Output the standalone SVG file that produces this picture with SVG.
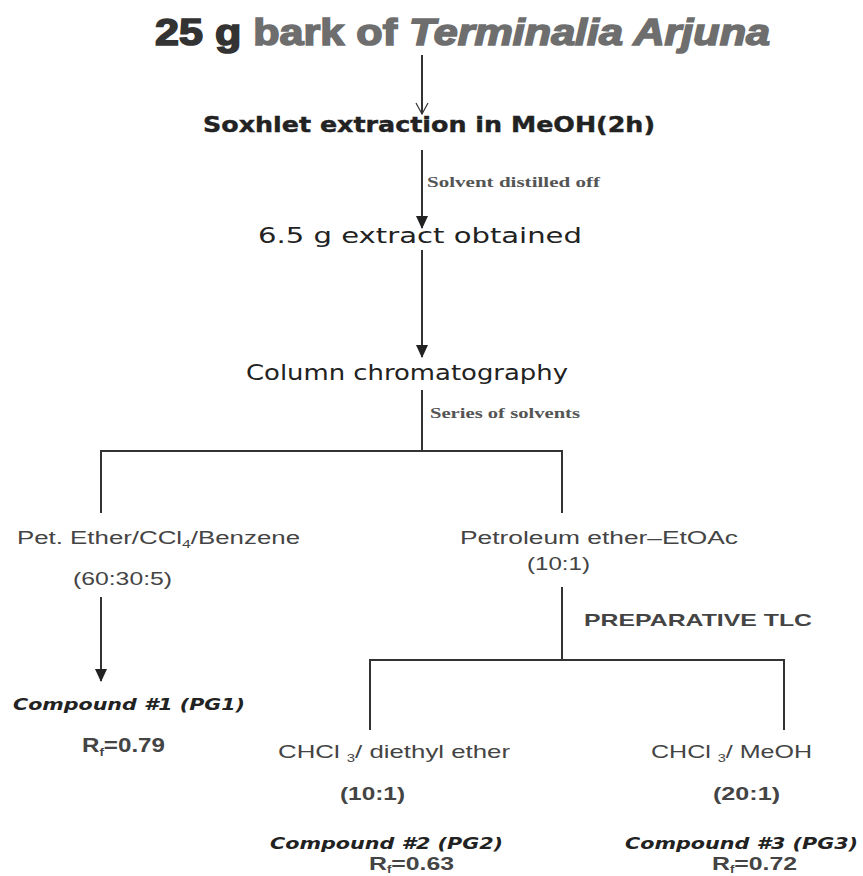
<svg xmlns="http://www.w3.org/2000/svg" width="863" height="876" viewBox="0 0 863 876">
<defs>
<marker id="tri" markerWidth="14" markerHeight="14" refX="12" refY="7" orient="auto" markerUnits="userSpaceOnUse" viewBox="0 0 14 14">
<path d="M0,1 L13,7 L0,13 Z" fill="#222"/>
</marker>
<marker id="open" markerWidth="14" markerHeight="14" refX="12" refY="7" orient="auto" markerUnits="userSpaceOnUse" viewBox="0 0 14 14">
<path d="M1,1 L12,7 L1,13" fill="none" stroke="#333" stroke-width="1.2"/>
</marker>
</defs>
<style>
.ln{stroke:#333;stroke-width:2;fill:none}
.comic{font-family:"DejaVu Sans",sans-serif;fill:#222}
.arial{font-family:"Liberation Sans",Arial,sans-serif;fill:#444}
.times{font-family:"Liberation Serif","Times New Roman",serif;fill:#555;font-weight:bold}
</style>
<rect width="863" height="876" fill="#fff"/>
<g id="connectors">
<line class="ln" x1="422" y1="55" x2="422" y2="114" stroke-width="1.5" marker-end="url(#open)"/>
<line class="ln" x1="422" y1="150" x2="422" y2="228" marker-end="url(#tri)"/>
<line class="ln" x1="422" y1="250" x2="422" y2="357" marker-end="url(#tri)"/>
<polyline class="ln" points="422,390 422,451"/>
<polyline class="ln" points="101,513 101,451 562,451 562,513"/>
<line class="ln" x1="101" y1="597" x2="101" y2="681" marker-end="url(#tri)"/>
<polyline class="ln" points="562,587 562,660"/>
<polyline class="ln" points="370,730 370,660 784,660 784,730"/>
</g>
<g id="title">
<text x="155" y="45" font-family="Liberation Sans,Arial,sans-serif" font-weight="900" font-size="36" stroke-width="1.6" textLength="615" lengthAdjust="spacingAndGlyphs"><tspan fill="#333" stroke="#333">25 g </tspan><tspan fill="#6e6e6e" stroke="#6e6e6e">bark of </tspan><tspan fill="#6e6e6e" stroke="#6e6e6e" font-style="italic">Terminalia Arjuna</tspan></text>
</g>
<g id="soxhlet">
<text class="comic" x="203" y="132" font-size="21" font-weight="bold" stroke="#222" stroke-width="0.4" textLength="452" lengthAdjust="spacingAndGlyphs">Soxhlet extraction in MeOH(2h)</text>
</g>
<g id="label-distilled">
<text class="times" x="427" y="187" font-size="15" textLength="173" lengthAdjust="spacingAndGlyphs">Solvent distilled off</text>
</g>
<g id="extract">
<text class="comic" x="258" y="243" font-size="21" textLength="324" lengthAdjust="spacingAndGlyphs">6.5 g extract obtained</text>
</g>
<g id="column">
<text class="comic" x="246" y="380" font-size="21" textLength="322" lengthAdjust="spacingAndGlyphs">Column chromatography</text>
</g>
<g id="label-series">
<text class="times" x="430" y="418" font-size="15" textLength="150" lengthAdjust="spacingAndGlyphs">Series of solvents</text>
</g>
<g id="pet-ether">
<text class="arial" x="17" y="544" font-size="18" textLength="283" lengthAdjust="spacingAndGlyphs">Pet. Ether/CCl<tspan font-size="11" dy="4">4</tspan><tspan dy="-4">/Benzene</tspan></text>
<text class="arial" x="73" y="585" font-size="19" textLength="99" lengthAdjust="spacingAndGlyphs">(60:30:5)</text>
</g>
<g id="petroleum">
<text class="arial" x="460" y="544" font-size="18" textLength="278" lengthAdjust="spacingAndGlyphs">Petroleum ether–EtOAc</text>
<text class="arial" x="527" y="570" font-size="19" textLength="63" lengthAdjust="spacingAndGlyphs">(10:1)</text>
</g>
<g id="label-tlc">
<text class="arial" x="584" y="626" font-size="17" font-weight="bold" fill="#333" textLength="228" lengthAdjust="spacingAndGlyphs">PREPARATIVE TLC</text>
</g>
<g id="compound1">
<text class="comic" x="13" y="710" font-size="16" font-weight="bold" font-style="italic" fill="#333" textLength="232" lengthAdjust="spacingAndGlyphs">Compound #1 (PG1)</text>
<text class="arial" x="82" y="752" font-size="20" font-weight="bold" fill="#333" textLength="83" lengthAdjust="spacingAndGlyphs">R<tspan font-size="11" dy="4">f</tspan><tspan dy="-4">=0.79</tspan></text>
</g>
<g id="chcl3-ether">
<text class="arial" x="278" y="758" font-size="19" textLength="232" lengthAdjust="spacingAndGlyphs">CHCl <tspan font-size="11" dy="4">3</tspan><tspan dy="-4">/ diethyl ether</tspan></text>
<text class="arial" x="340" y="800" font-size="19" font-weight="bold" textLength="65" lengthAdjust="spacingAndGlyphs">(10:1)</text>
</g>
<g id="chcl3-meoh">
<text class="arial" x="651" y="758" font-size="19" textLength="161" lengthAdjust="spacingAndGlyphs">CHCl <tspan font-size="11" dy="4">3</tspan><tspan dy="-4">/ MeOH</tspan></text>
<text class="arial" x="713" y="800" font-size="19" font-weight="bold" textLength="67" lengthAdjust="spacingAndGlyphs">(20:1)</text>
</g>
<g id="compound2">
<text class="comic" x="270" y="849" font-size="16" font-weight="bold" font-style="italic" fill="#333" textLength="233" lengthAdjust="spacingAndGlyphs">Compound #2 (PG2)</text>
<text class="arial" x="369" y="870" font-size="19" font-weight="bold" fill="#333" textLength="85" lengthAdjust="spacingAndGlyphs">R<tspan font-size="10" dy="3">f</tspan><tspan dy="-3">=0.63</tspan></text>
</g>
<g id="compound3">
<text class="comic" x="625" y="849" font-size="16" font-weight="bold" font-style="italic" fill="#333" textLength="233" lengthAdjust="spacingAndGlyphs">Compound #3 (PG3)</text>
<text class="arial" x="712" y="870" font-size="19" font-weight="bold" fill="#333" textLength="85" lengthAdjust="spacingAndGlyphs">R<tspan font-size="10" dy="3">f</tspan><tspan dy="-3">=0.72</tspan></text>
</g>
</svg>
